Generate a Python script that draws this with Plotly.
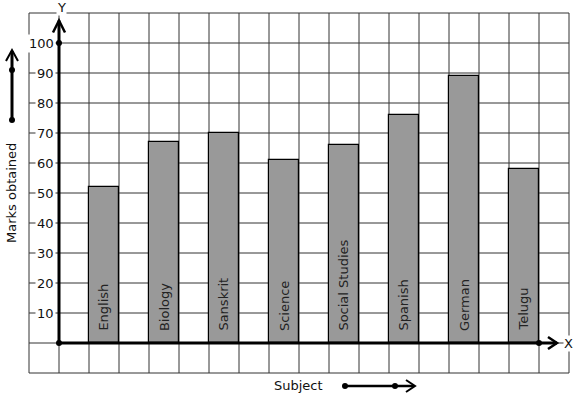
import plotly.graph_objects as go

# ---- data ----
subjects = ["English", "Biology", "Sanskrit", "Science", "Social Studies",
            "Spanish", "German", "Telugu"]
marks = [52, 67, 70, 61, 66, 76, 89, 58]
bar_pos = [1.5, 3.5, 5.5, 7.5, 9.5, 11.5, 13.5, 15.5]
y_ticks = [10, 20, 30, 40, 50, 60, 70, 80, 90, 100]

W, H = 577, 399
FONT = "DejaVu Sans"
GRID = "#333333"

# axes mapping: x unit = 30px (x=0 at px 59), y unit = 3px per mark (0 at py 343)
X0PX, Y0PX = 59, 343
xr = [(0 - X0PX) / 30, (W - X0PX) / 30]
yr = [(Y0PX - H) / 3, (Y0PX - 0) / 3]

fig = go.Figure()

shapes = []
# grid
gx = list(range(-1, 18))
gy = list(range(-10, 111, 10))
for x in gx:
    shapes.append(dict(type="line", xref="x", yref="y", x0=x, x1=x, y0=-10, y1=110,
                       line=dict(color=GRID, width=1), layer="below"))
for y in gy:
    shapes.append(dict(type="line", xref="x", yref="y", x0=-1, x1=17, y0=y, y1=y,
                       line=dict(color=GRID, width=1), layer="below"))

fig.add_trace(go.Bar(
    x=bar_pos, y=marks, width=1,
    marker=dict(color="#999999", line=dict(color="black", width=1.2)),
    hoverinfo="skip", showlegend=False,
))

# main axes (thick, with open arrowheads)
y_top = 107.5
x_end = 16.6
shapes.append(dict(type="line", xref="x", yref="y", x0=0, x1=0, y0=0, y1=y_top,
                   line=dict(color="black", width=3)))
shapes.append(dict(type="path", xref="x", yref="y",
                   path=f"M-0.2,{y_top-4} L0,{y_top} L0.2,{y_top-4}",
                   line=dict(color="black", width=2.5)))
shapes.append(dict(type="line", xref="x", yref="y", x0=0, x1=x_end, y0=0, y1=0,
                   line=dict(color="black", width=3)))
shapes.append(dict(type="path", xref="x", yref="y",
                   path=f"M{x_end-0.3},2 L{x_end},0 L{x_end-0.3},-2",
                   line=dict(color="black", width=2.5)))

fig.add_trace(go.Scatter(x=[0, 0, 16], y=[0, 100, 0], mode="markers",
                         marker=dict(color="black", size=6),
                         hoverinfo="skip", showlegend=False))

annotations = []
for v in y_ticks:
    annotations.append(dict(x=-0.1, y=v, xref="x", yref="y", text=str(v),
                            showarrow=False, xanchor="right", yanchor="middle",
                            bgcolor="white", borderpad=1,
                            font=dict(family=FONT, size=13, color="#111111")))
for s, xp in zip(subjects, bar_pos):
    annotations.append(dict(x=xp, y=3.3, xref="x", yref="y", text=s,
                            showarrow=False, textangle=-90,
                            xanchor="center", yanchor="bottom",
                            font=dict(family=FONT, size=13, color="#222222")))
annotations.append(dict(x=0.07, y=111.7, xref="x", yref="y", text="Y", showarrow=False,
                        xanchor="center", yanchor="middle",
                        bgcolor="white", borderpad=0,
                        font=dict(family=FONT, size=13, color="#111111")))
annotations.append(dict(x=(568 - X0PX) / 30, y=0, xref="x", yref="y", text="X",
                        xanchor="center", yanchor="middle",
                        showarrow=False, bgcolor="white", borderpad=0,
                        font=dict(family=FONT, size=13, color="#111111")))
annotations.append(dict(x=12 / W, y=1 - 193 / H, xref="paper", yref="paper",
                        text="Marks obtained", showarrow=False, textangle=-90,
                        xanchor="center", yanchor="middle",
                        font=dict(family=FONT, size=13, color="#111111")))
annotations.append(dict(x=298 / W, y=1 - 385 / H, xref="paper", yref="paper",
                        text="Subject", showarrow=False,
                        xanchor="center", yanchor="middle",
                        font=dict(family=FONT, size=13, color="#111111")))

# decorative direction arrows (paper coords from pixel positions)
def px(v):
    return v / W

def py(v):
    return 1 - v / H

shapes.append(dict(type="line", xref="paper", yref="paper", x0=px(12), x1=px(12),
                   y0=py(120), y1=py(51), line=dict(color="black", width=3)))
shapes.append(dict(type="path", xref="paper", yref="paper",
                   path=f"M{px(6)},{py(61)} L{px(12)},{py(50)} L{px(18)},{py(61)}",
                   line=dict(color="black", width=2)))
shapes.append(dict(type="line", xref="paper", yref="paper", x0=px(345), x1=px(414),
                   y0=py(386), y1=py(386), line=dict(color="black", width=2.5)))
shapes.append(dict(type="path", xref="paper", yref="paper",
                   path=f"M{px(406)},{py(380)} L{px(415)},{py(386)} L{px(406)},{py(392)}",
                   line=dict(color="black", width=2)))
fig.add_trace(go.Scatter(x=[12, 12, 345, 395], y=[70, 120, 386, 386],
                         xaxis="x2", yaxis="y2", mode="markers",
                         marker=dict(color="black", size=6),
                         hoverinfo="skip", showlegend=False))

fig.update_layout(
    width=W, height=H,
    margin=dict(l=0, r=0, t=0, b=0),
    paper_bgcolor="white", plot_bgcolor="white",
    xaxis=dict(range=xr, visible=False, fixedrange=True),
    yaxis=dict(range=yr, visible=False, fixedrange=True),
    xaxis2=dict(range=[0, W], visible=False, overlaying="x", fixedrange=True),
    yaxis2=dict(range=[H, 0], visible=False, overlaying="y", fixedrange=True),
    shapes=shapes,
    annotations=annotations,
    bargap=0,
    font=dict(family=FONT),
)

fig.write_html("out.html")
